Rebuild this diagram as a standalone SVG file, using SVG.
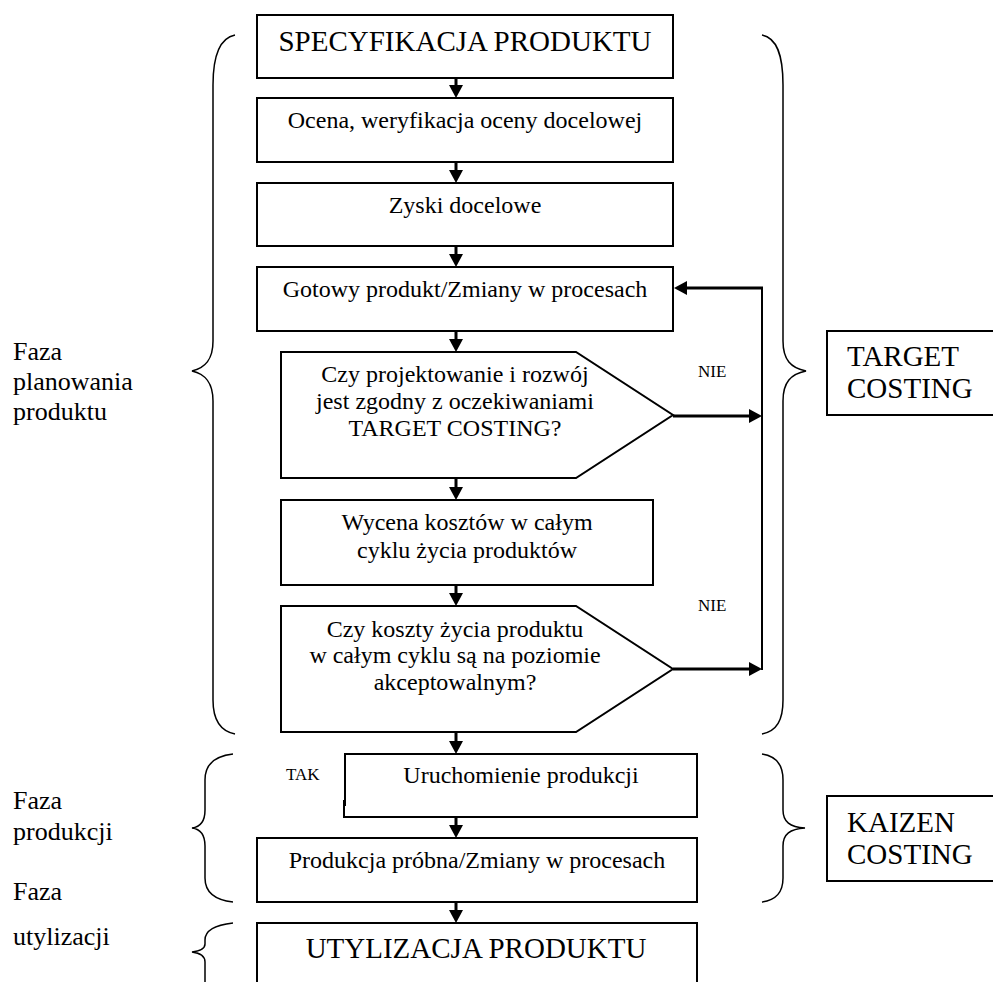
<svg xmlns="http://www.w3.org/2000/svg" width="993" height="982" viewBox="0 0 993 982">
<style>
.box{fill:#fff;stroke:#000;stroke-width:2}
.t{font-family:"Liberation Serif","Times New Roman",serif;font-size:24px;fill:#000;text-anchor:middle}
.big{font-size:29px}
.side{font-family:"Liberation Serif","Times New Roman",serif;font-size:26px;fill:#000}
.lab{font-family:"Liberation Serif","Times New Roman",serif;font-size:17px;fill:#000}
.cost{font-family:"Liberation Serif","Times New Roman",serif;font-size:29px;fill:#000}
.br{fill:none;stroke:#000;stroke-width:1.5}
.c{fill:none;stroke:#000;stroke-width:3}
.v{fill:none;stroke:#000;stroke-width:2}
</style>
<defs>
<marker id="ah" markerUnits="userSpaceOnUse" markerWidth="14" markerHeight="14" refX="3" refY="7" orient="auto">
<path d="M0,0 L13,7 L0,14 z" fill="#000"/>
</marker>
</defs>
<rect width="993" height="982" fill="#fff"/>

<g id="braces">
<path class="br" d="M235,35 C220,38 213,55 213,85 L213,341 C213,360 205,368 192,371 C205,374 213,382 213,401 L213,700 C213,720 220,731 235,734"/>
<path class="br" d="M762,35 C777,38 783,55 783,85 L783,341 C783,360 791,368 806,371 C791,374 783,382 783,401 L783,700 C783,720 777,731 762,734"/>
<path class="br" d="M233,754 C215,756 205,764 205,780 L205,810 C205,822 200,827 192,828 C200,829 205,834 205,846 L205,878 C205,893 215,900 233,902"/>
<path class="br" d="M762,754 C776,756 783,764 783,780 L783,810 C783,822 790,827 805,828 C790,829 783,834 783,846 L783,878 C783,893 776,900 762,902"/>
<path class="br" d="M233,923 C215,925 205,930 205,940 L205,944 C205,948 200,951 192,952 C200,953 205,956 205,962 L205,990"/>
</g>

<g id="phase-labels">
<text class="side" x="13" y="360">Faza</text>
<text class="side" x="13" y="390">planowania</text>
<text class="side" x="13" y="420">produktu</text>
<text class="side" x="13" y="809">Faza</text>
<text class="side" x="13" y="840">produkcji</text>
<text class="side" x="13" y="900">Faza</text>
<text class="side" x="13" y="945">utylizacji</text>
</g>

<g id="target-costing">
<rect class="box" x="827" y="331" width="180" height="84"/>
<text class="cost" x="847" y="366">TARGET</text>
<text class="cost" x="847" y="398">COSTING</text>
</g>
<g id="kaizen-costing">
<rect class="box" x="827" y="796" width="180" height="85"/>
<text class="cost" x="847" y="832">KAIZEN</text>
<text class="cost" x="847" y="864">COSTING</text>
</g>

<g id="connectors">
<line class="c" x1="456" y1="78" x2="456" y2="88" marker-end="url(#ah)"/>
<line class="c" x1="456" y1="162" x2="456" y2="173" marker-end="url(#ah)"/>
<line class="c" x1="456" y1="246" x2="456" y2="257" marker-end="url(#ah)"/>
<line class="c" x1="456" y1="331" x2="456" y2="342" marker-end="url(#ah)"/>
<line class="c" x1="456" y1="478" x2="456" y2="490" marker-end="url(#ah)"/>
<line class="c" x1="456" y1="585" x2="456" y2="596" marker-end="url(#ah)"/>
<line class="c" x1="456" y1="732" x2="456" y2="744" marker-end="url(#ah)"/>
<line class="c" x1="456" y1="817" x2="456" y2="828" marker-end="url(#ah)"/>
<line class="c" x1="456" y1="902" x2="456" y2="913" marker-end="url(#ah)"/>
<line class="c" x1="673" y1="416" x2="752" y2="416" marker-end="url(#ah)"/>
<line class="c" x1="673" y1="669" x2="752" y2="669" marker-end="url(#ah)"/>
<line class="v" x1="762" y1="287" x2="762" y2="670"/>
<line class="c" x1="763" y1="288" x2="684" y2="288" marker-end="url(#ah)"/>
</g>

<g id="n-spec">
<rect class="box" x="257" y="15" width="416" height="63"/>
<text class="t big" x="465" y="51">SPECYFIKACJA PRODUKTU</text>
</g>
<g id="n-ocena">
<rect class="box" x="257" y="98" width="416" height="64"/>
<text class="t" x="465" y="128">Ocena, weryfikacja oceny docelowej</text>
</g>
<g id="n-zyski">
<rect class="box" x="257" y="183" width="416" height="63"/>
<text class="t" x="465" y="213">Zyski docelowe</text>
</g>
<g id="n-gotowy">
<rect class="box" x="257" y="267" width="416" height="64"/>
<text class="t" x="465" y="297">Gotowy produkt/Zmiany w procesach</text>
</g>
<g id="n-dec1">
<path class="box" d="M281,352 H576 L673,415 L576,478 H281 Z"/>
<text class="t" x="455" y="382">Czy projektowanie i rozwój</text>
<text class="t" x="455" y="409">jest zgodny z oczekiwaniami</text>
<text class="t" x="455" y="436">TARGET COSTING?</text>
<text class="lab" x="698" y="377">NIE</text>
</g>
<g id="n-wycena">
<rect class="box" x="281" y="500" width="372" height="85"/>
<text class="t" x="467" y="530">Wycena kosztów w całym</text>
<text class="t" x="467" y="558">cyklu życia produktów</text>
</g>
<g id="n-dec2">
<path class="box" d="M281,606 H576 L673,669 L576,732 H281 Z"/>
<text class="t" x="455" y="637">Czy koszty życia produktu</text>
<text class="t" x="455" y="663">w całym cyklu są na poziomie</text>
<text class="t" x="455" y="690">akceptowalnym?</text>
<text class="lab" x="698" y="611">NIE</text>
</g>
<g id="n-uruch">
<path class="box" d="M345,806 V754 H697 V817 H344 V800"/>
<text class="t" x="521" y="783">Uruchomienie produkcji</text>
<text class="lab" x="286" y="780">TAK</text>
</g>
<g id="n-probna">
<rect class="box" x="257" y="838" width="440" height="64"/>
<text class="t" x="477" y="868">Produkcja próbna/Zmiany w procesach</text>
</g>
<g id="n-utyl">
<path class="box" d="M257,990 V923 H697 V990"/>
<text class="t big" x="476" y="958">UTYLIZACJA PRODUKTU</text>
</g>
</svg>
